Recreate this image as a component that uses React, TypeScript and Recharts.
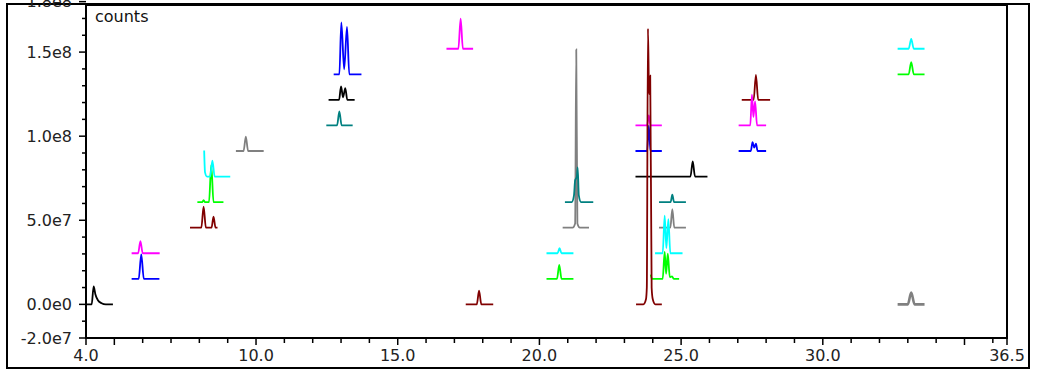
import { LineChart, Line, XAxis, YAxis, ReferenceArea } from 'recharts';

// baseline offset of each stacked trace level (counts)
const levels = [0, 1.52e7, 3.04e7, 4.56e7, 6.08e7, 7.6e7, 9.12e7, 1.064e8, 1.216e8, 1.368e8, 1.52e8];

// traces: [time, signal above its baseline]
const p01 = [[4.0, 0], [4.2, 0], [4.27, 1.07e7], [4.33, 0.6e7], [4.42, 0.25e7], [4.55, 0.07e7], [4.7, 0], [4.95, 0]];
const p02 = [[5.61, 0], [5.86, 0], [5.95, 1.45e7], [6.04, 0], [6.59, 0]];
const p03 = [[5.61, 0], [5.84, 0], [5.92, 0.72e7], [6.0, 0], [6.6, 0]];
const p04 = [[7.67, 0], [8.07, 0], [8.15, 1.25e7], [8.23, 0], [8.43, 0], [8.5, 0.66e7], [8.57, 0], [8.64, 0]];
const p05 = [[7.93, 0], [8.1, 0], [8.15, 0.12e7], [8.2, 0], [8.34, 0], [8.42, 2.2e7], [8.5, 0], [8.85, 0]];
const p06 = [[8.17, 1.55e7], [8.2, 0.25e7], [8.27, 0], [8.38, 0], [8.46, 0.95e7], [8.54, 0], [9.09, 0]];
const p07 = [[9.29, 0], [9.56, 0], [9.64, 0.85e7], [9.72, 0], [10.27, 0]];
const p08 = [[12.48, 0], [12.86, 0], [12.94, 0.83e7], [13.02, 0], [13.41, 0]];
const p09 = [[12.56, 0], [12.93, 0], [13.0, 0.8e7], [13.07, 0.15e7], [13.15, 0.7e7], [13.22, 0], [13.48, 0]];
const p10 = [[12.74, 0], [12.94, 0], [13.01, 3.08e7], [13.11, 0.3e7], [13.21, 2.82e7], [13.29, 0], [13.72, 0]];
const p11 = [[16.72, 0], [17.14, 0], [17.22, 1.79e7], [17.3, 0], [17.66, 0]];
const p12 = [[17.4, 0], [17.79, 0], [17.87, 0.81e7], [17.95, 0], [18.37, 0]];
const p13 = [[20.25, 0], [20.64, 0], [20.71, 0.3e7], [20.78, 0], [21.2, 0]];
const p14 = [[20.25, 0], [20.62, 0], [20.7, 0.83e7], [20.78, 0], [21.2, 0]];
const p15 = [[20.82, 0], [21.17, 0], [21.26, 0.25e7], [21.3, 1.06e8], [21.34, 0.25e7], [21.43, 0], [21.75, 0]];
const p16 = [[20.9, 0], [21.14, 0], [21.22, 0.4e7], [21.26, 1.3e7], [21.32, 1.5e7], [21.35, 2.07e7], [21.39, 0.4e7], [21.47, 0], [21.9, 0]];
const p17 = [[23.39, 0], [23.8, 0], [23.86, 0.6e7], [23.92, 0], [24.32, 0]];
const p18 = [[23.39, 0], [23.8, 0], [23.86, 1.5e7], [23.92, 0], [24.32, 0]];
const p19 = [[23.39, 0], [25.33, 0], [25.41, 0.9e7], [25.49, 0], [25.93, 0]];
const p20 = [[23.41, 0], [23.67, 0], [23.76, 0.3e7], [23.79, 1.0e7], [23.83, 1.64e8], [23.87, 1.25e8], [23.91, 1.36e8], [23.96, 1.0e7], [24.0, 0.3e7], [24.09, 0], [24.32, 0]];
const p21 = [[24.22, 0], [24.63, 0], [24.69, 0.44e7], [24.75, 0], [25.17, 0]];
const p22 = [[24.22, 0], [24.62, 0], [24.69, 1.1e7], [24.76, 0], [25.17, 0]];
const p23 = [[24.08, 0], [24.35, 0], [24.42, 2.23e7], [24.48, 0.3e7], [24.55, 2.03e7], [24.62, 0], [25.05, 0]];
const p24 = [[23.93, 0.25e7], [23.97, 0], [24.35, 0], [24.42, 1.6e7], [24.47, 0.3e7], [24.53, 1.5e7], [24.6, 0.1e7], [24.68, 0.15e7], [24.74, 0], [24.93, 0]];
const p25 = [[27.14, 0], [27.56, 0], [27.64, 1.49e7], [27.72, 0], [28.14, 0]];
const p26 = [[27.03, 0], [27.44, 0], [27.5, 1.83e7], [27.55, 0.5e7], [27.61, 1.43e7], [27.68, 0], [28.0, 0]];
const p27 = [[27.03, 0], [27.46, 0], [27.52, 0.52e7], [27.58, 0.2e7], [27.64, 0.44e7], [27.7, 0], [28.0, 0]];
const p28 = [[32.64, 0], [33.03, 0], [33.12, 0.58e7], [33.21, 0], [33.59, 0]];
const p29 = [[32.64, 0], [33.03, 0], [33.12, 0.72e7], [33.21, 0], [33.59, 0]];
const p30 = [[32.64, 0], [33.0, 0], [33.12, 0.7e7], [33.24, 0], [33.59, 0]];

const traces = [p01, p02, p03, p04, p05, p06, p07, p08, p09, p10, p11, p12, p13, p14, p15, p16, p17, p18, p19, p21, p22, p24, p23, p25, p26, p27, p28, p29, p30, p20];
const traceLevels = [0, 1, 2, 3, 4, 5, 6, 7, 8, 9, 10, 0, 2, 1, 3, 4, 7, 6, 5, 4, 3, 1, 2, 8, 7, 6, 10, 9, 0, 0];

const C = {
  black: '#000000', blue: '#0000ff', magenta: '#ff00ff', maroon: '#800000',
  green: '#00ff00', cyan: '#00ffff', gray: '#808080', teal: '#008080',
};
const traceColors = [
  C.black, C.blue, C.magenta, C.maroon, C.green, C.cyan, C.gray, C.teal, C.black, C.blue,
  C.magenta, C.maroon, C.cyan, C.green, C.gray, C.teal, C.magenta, C.blue, C.black, C.teal,
  C.gray, C.green, C.cyan, C.maroon, C.magenta, C.blue, C.cyan, C.green, C.gray, C.maroon,
];

const xTicks = [4, 5, 6, 7, 8, 9, 10, 11, 12, 13, 14, 15, 16, 17, 18, 19, 20, 21, 22, 23, 24, 25, 26, 27, 28, 29, 30, 31, 32, 33, 34, 35, 36, 36.5];
const xLabelValues = [4, 10, 15, 20, 25, 30, 36.5];
const xLabelText = ['4.0', '10.0', '15.0', '20.0', '25.0', '30.0', '36.5'];

const yTicks = [-2e7, -1e7, 0, 1e7, 2e7, 3e7, 4e7, 5e7, 6e7, 7e7, 8e7, 9e7, 1e8, 1.1e8, 1.2e8, 1.3e8, 1.4e8, 1.5e8, 1.6e8, 1.7e8, 1.8e8];
const yLabelValues = [-2e7, 0, 5e7, 1e8, 1.5e8, 1.8e8];
const yLabelText = ['-2.0e7', '0.0e0', '5.0e7', '1.0e8', '1.5e8', '1.8e8'];

const X_DOMAIN: [number, number] = [4, 36.5];
const Y_DOMAIN: [number, number] = [-2e7, 1.78e8];
const FONT = '"DejaVu Sans", sans-serif';

const XTick = (props: any) => {
  const { x, y, payload } = props;
  const i = xLabelValues.indexOf(payload.value);
  const major = payload.value % 5 === 0 || i >= 0;
  return (
    <g>
      <line x1={x} x2={x} y1={y} y2={y + (major ? 7 : 5)} stroke="#000" strokeWidth={1.5} />
      {i >= 0 && (
        <text x={x} y={y + 17} textAnchor="middle" dominantBaseline="central" fontFamily={FONT} fontSize={16} fill="#222">
          {xLabelText[i]}
        </text>
      )}
    </g>
  );
};

const YTick = (props: any) => {
  const { x, y, payload } = props;
  const i = yLabelValues.indexOf(payload.value);
  return (
    <g>
      <line x1={x} x2={x - (i >= 0 ? 7 : 4)} y1={y} y2={y} stroke="#000" strokeWidth={1.5} />
      {i >= 0 && (
        <text x={x - 14} y={y} textAnchor="end" dominantBaseline="central" fontFamily={FONT} fontSize={16} fill="#222">
          {yLabelText[i]}
        </text>
      )}
    </g>
  );
};

export default function App() {
  return (
    <div style={{ position: 'absolute', left: 0, top: 0, width: 1037, height: 375, background: '#fff' }}>
      <div style={{ position: 'absolute', left: 6, top: 3, width: 1024, height: 366, border: '2px solid #000', boxSizing: 'border-box' }} />
      <LineChart width={1037} height={375} margin={{ top: 5, right: 30, bottom: 0, left: 0 }} style={{ position: 'absolute', left: 0, top: 0 }}>
        <XAxis xAxisId="pad" type="number" dataKey="x" domain={X_DOMAIN} allowDataOverflow height={5} axisLine={false} tickLine={false} tick={false} />
        <XAxis
          xAxisId="main" type="number" dataKey="x" domain={X_DOMAIN} allowDataOverflow height={32}
          ticks={xTicks} interval={0} tickSize={0} tickMargin={0} tickLine={false}
          axisLine={{ stroke: '#000', strokeWidth: 2 }} tick={<XTick />}
        />
        <YAxis yAxisId="pad" type="number" domain={Y_DOMAIN} allowDataOverflow width={8} axisLine={false} tickLine={false} tick={false} />
        <YAxis
          yAxisId="main" type="number" domain={Y_DOMAIN} allowDataOverflow width={78}
          ticks={yTicks} interval={0} tickSize={0} tickMargin={0} tickLine={false}
          axisLine={{ stroke: '#000', strokeWidth: 2 }} tick={<YTick />}
        />
        <ReferenceArea xAxisId="main" yAxisId="main" x1={4} x2={36.5} y1={-2e7} y2={1.78e8} fill="none" stroke="#000" strokeWidth={2} />
        {traces.map((pts, i) => (
          <Line
            key={i}
            xAxisId="main"
            yAxisId="main"
            data={pts.map(([x, v]) => ({ x, y: levels[traceLevels[i]] + v }))}
            dataKey="y"
            type="monotone"
            stroke={traceColors[i]}
            strokeWidth={i === 28 ? 2.6 : 1.8}
            dot={false}
            activeDot={false}
            isAnimationActive={false}
          />
        ))}
      </LineChart>
      <div style={{ position: 'absolute', left: 95, top: 8, fontFamily: FONT, fontSize: 16, lineHeight: '18px', color: '#111' }}>counts</div>
    </div>
  );
}
